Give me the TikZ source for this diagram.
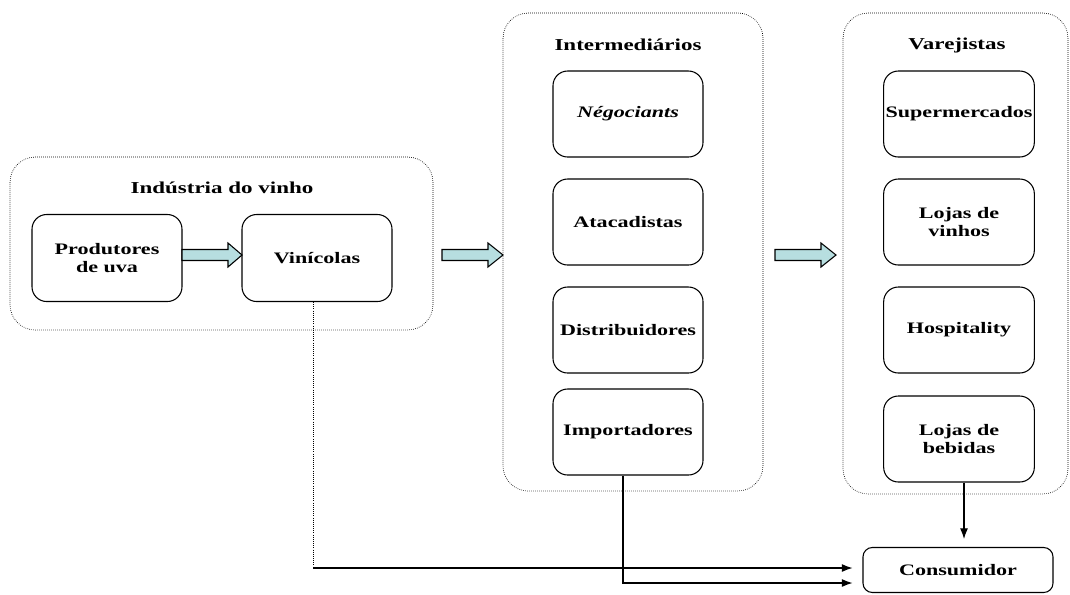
\documentclass[tikz,border=0pt]{standalone}
\usepackage{fontspec}
\setmainfont[FakeStretch=1.38]{Liberation Serif}
\usetikzlibrary{arrows.meta}
\definecolor{arrowfill}{RGB}{183,222,224}
\begin{document}
\begin{tikzpicture}[x=0.75pt,y=-0.75pt,
  group/.style={draw,densely dotted,rounded corners=19pt,line width=0.5pt},
  item/.style={draw,rounded corners=11pt,line width=0.8pt,font=\fontsize{12}{14}\selectfont\bfseries,align=center,inner sep=0pt,minimum width=112.5pt,minimum height=64.5pt},
  gtitle/.style={font=\fontsize{12.5}{14}\selectfont\bfseries,inner sep=0pt},
  fatarrow/.style={draw,line width=0.8pt,fill=arrowfill},
  conn/.style={line width=0.8pt,-{Latex[length=8pt,width=6pt]}}]
\useasboundingbox (0,0) rectangle (1070,594);
% groups
\draw[group] (10,157) rectangle (433,330);
\node[gtitle] (t1) at (222,188) {Indústria do vinho};
\draw[group] (503,13) rectangle (763,491);
\node[gtitle] (t2) at (628,45) {Intermediários};
\draw[group] (843,13) rectangle (1068,494);
\node[gtitle] (t3) at (957,45) {Varejistas};
% boxes
\node[item,minimum height=65.25pt] (prod) at (107,258) {Produtores\\de uva};
\node[item,minimum height=65.25pt] (vin) at (317,258) {Vinícolas};
\node[item] (neg) at (628,114) {\itshape Négociants};
\node[item] (ata) at (628,222) {Atacadistas};
\node[item] (dis) at (628,330) {Distribuidores};
\node[item] (imp) at (628,432) {Importadores};
\node[item,minimum width=113pt] (sup) at (959,114) {Supermercados};
\node[item,minimum width=113pt] (lv) at (959,222) {Lojas de\\vinhos};
\node[item,minimum width=113pt] (hos) at (959,330) {Hospitality};
\node[item,minimum width=113pt] (lb) at (959,439) {Lojas de\\bebidas};
\node[item,minimum width=142.5pt,minimum height=33.75pt,rounded corners=7pt] (con) at (958,570) {Consumidor};
% fat arrows
\draw[fatarrow] (182,249.5) -- (228,249.5) -- (228,243) -- (242,255) -- (228,267) -- (228,260.5) -- (182,260.5) -- cycle;
\draw[fatarrow] (442,249.5) -- (488,249.5) -- (488,243) -- (503,255) -- (488,267) -- (488,260.5) -- (442,260.5) -- cycle;
\draw[fatarrow] (775,249.5) -- (821,249.5) -- (821,243) -- (836,255) -- (821,267) -- (821,260.5) -- (775,260.5) -- cycle;
% connectors
\coordinate (c1) at (313,568);
\coordinate (c2) at (623,583);
\draw[densely dotted,line width=0.6pt] (vin.south -| c1) -- (c1);
\draw[conn] (c1) -- ([xshift=-7.5pt]con.west |- c1);
\draw[conn] (imp.south -| c2) -- (c2) -- ([xshift=-7.5pt]con.west |- c2);
\draw[conn] (lb.south -| 964,0) -- ([yshift=6pt]con.north -| 964,0);
\end{tikzpicture}
\end{document}
